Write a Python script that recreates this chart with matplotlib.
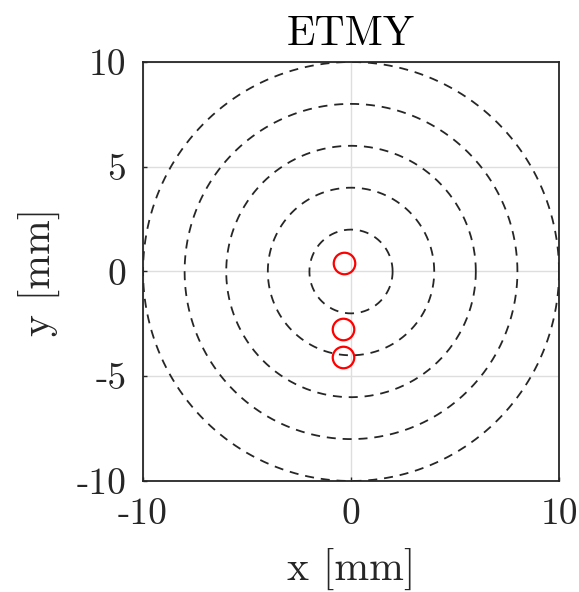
import matplotlib
matplotlib.use("Agg")
import matplotlib.pyplot as plt
import numpy as np

plt.rcParams['font.family'] = 'serif'
plt.rcParams['font.serif'] = ['cmr10']
plt.rcParams['axes.unicode_minus'] = False
plt.rcParams['axes.formatter.use_mathtext'] = False

# beam spot positions [mm]
spot_x = [-0.35, -0.38, -0.38]
spot_y = [0.40, -2.75, -4.10]

# reference rings [mm]
ring_radii = [2, 4, 6, 8, 10]
xticks = [-10, 0, 10]
yticks = [-10, -5, 0, 5, 10]

fig = plt.figure(figsize=(5.79, 5.92), dpi=100)
ax = fig.add_axes([0.247, 0.1875, 0.7185, 0.7078])

theta = np.linspace(0, 2 * np.pi, 400)
for r in ring_radii:
    ax.plot(r * np.cos(theta), r * np.sin(theta), '--', color='#262626',
            lw=1.3, dashes=(5.0, 3.8))

ax.plot(spot_x, spot_y, 'o', mfc='none', mec='red', ms=15.5, mew=1.6,
        linestyle='none')

ax.set_xlim(-10, 10)
ax.set_ylim(-10, 10)
ax.set_xticks(xticks)
ax.set_yticks(yticks)
ax.grid(True, color='#dedede', lw=1.0)
ax.set_axisbelow(True)
ax.tick_params(direction='in', length=3, width=1.0, labelsize=27,
               colors='#262626', pad=12)
for s in ax.spines.values():
    s.set_linewidth(1.3)
    s.set_color('#262626')

ax.set_xlabel("x [mm]", fontsize=30, color='#262626', labelpad=12)
ax.set_ylabel("y [mm]", fontsize=30, color='#262626', labelpad=12)
ax.set_title("ETMY", fontsize=30, color='black', pad=12)

fig.savefig("out.png", dpi=100)
